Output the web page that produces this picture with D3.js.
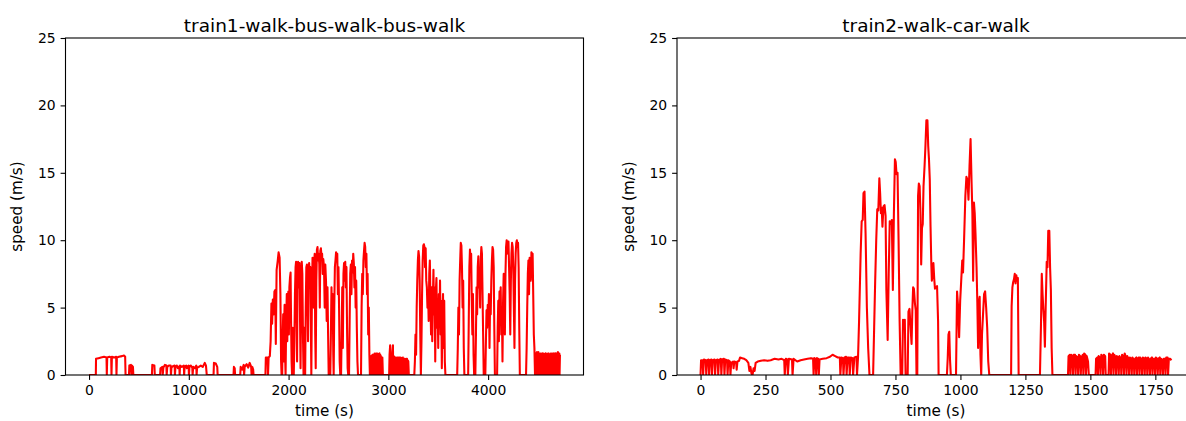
<!DOCTYPE html>
<html>
<head>
<meta charset="utf-8">
<script src="https://cdn.jsdelivr.net/npm/d3@7"></script>
<style>
  body { margin: 0; background: #fff; }
  text { font-family: "DejaVu Sans", sans-serif; fill: #000; }
</style>
</head>
<body>
<div id="my_dataviz"></div>
<script>

// [time (s), speed (m/s)]
var trip1 = [
  [0,0],[68,0],[70,1.2],[95,1.25],[120,1.3],[150,1.35],[175,1.3],[178,0],[182,1.3],[205,1.35],[222,1.3],[225,0],[229,1.35],[255,1.3],[272,1.35],[275,0],[279,1.3],[300,1.35],[330,1.4],[350,1.45],[362,1.35],[366,0],
  [400,0],[404,0.7],[420,0.75],[424,0],[430,0.7],[440,0.6],[444,0],
  [630,0],[634,0.75],[655,0.7],[659,0],
  [712,0],[716,0.5],[735,0.6],[738,0],[745,0.55],[760,0.75],[775,0.7],[778,0],[784,0.6],[800,0.7],[818,0.7],[821,0],[826,0.55],[840,0.65],[858,0.7],[861,0],[866,0.6],[880,0.7],[890,0.5],[905,0.65],[908,0],[912,0.7],[930,0.6],[950,0.7],[953,0],[958,0.6],[975,0.7],[980,0.5],[998,0.7],[1001,0],[1006,0.6],[1020,0.7],[1035,0.55],[1038,0],[1044,0.6],[1060,0.5],[1075,0.7],[1078,0],[1083,0.55],[1100,0.6],[1120,0.7],[1140,0.6],[1160,0.9],[1172,0.7],[1180,0],
  [1248,0],[1252,0.9],[1270,0.85],[1285,0.6],[1289,0],
  [1448,0],[1452,0.6],[1460,0.5],[1464,0],
  [1515,0],[1520,0.6],[1535,0.4],[1550,0.75],[1554,0],[1560,0.6],[1580,0.8],[1595,0.55],[1610,0.9],[1625,0.6],[1629,0],[1636,0.6],[1645,0.4],[1649,0],
  [1768,0],[1772,1.3],[1790,1.3],[1794,0],[1800,1.3],[1812,1.4],[1820,2.5],[1828,5.3],[1835,3.8],[1842,5.6],[1850,4.5],[1858,6.2],[1866,6.3],[1872,2.3],[1880,7.8],[1890,8.4],[1900,9.1],[1910,8.7],[1918,6.0],[1925,1.0],[1930,0],
  [1936,0],[1940,2.5],[1946,4.5],[1950,1.0],[1955,3.5],[1960,5.2],[1965,1.5],[1970,0],[1976,4.0],[1982,6.0],[1987,2.5],[1992,5.5],[1998,6.2],[2003,3.0],[2008,6.5],[2014,7.2],[2020,7.6],[2025,4.0],[2030,1.0],[2035,0],[2042,3.5],[2048,1.5],[2052,0],
  [2058,2.5],[2064,6.0],[2070,8.0],[2075,8.4],[2080,5.0],[2085,1.0],[2090,7.0],[2095,8.4],[2100,8.2],[2105,6.5],[2110,8.3],[2115,4.0],[2120,0.5],[2126,6.0],[2132,8.4],[2138,7.5],[2144,3.0],[2150,0],[2156,3.5],[2162,2.0],[2166,0],
  [2172,5.0],[2178,8.0],[2184,8.2],[2190,6.0],[2195,2.5],[2200,7.5],[2206,8.3],[2212,7.0],[2218,8.0],[2223,4.0],[2228,0],[2234,6.0],[2240,8.7],[2246,8.0],[2252,5.0],[2257,8.5],[2262,9.0],[2267,3.0],[2272,0.5],
  [2278,7.0],[2284,9.3],[2290,9.5],[2296,8.5],[2302,9.0],[2308,8.2],[2313,5.0],[2318,9.2],[2324,9.4],[2330,8.8],[2336,9.0],[2342,7.5],[2348,8.6],[2355,8.0],[2362,5.0],[2368,8.2],[2375,7.0],[2382,4.0],[2390,6.5],[2396,3.0],[2402,0],
  [2418,0],[2424,3.0],[2430,6.5],[2436,4.0],[2442,6.0],[2448,1.5],[2452,0],[2458,5.0],[2464,8.0],[2470,8.5],[2476,9.1],[2482,8.6],[2488,9.0],[2494,6.0],[2500,8.0],[2506,5.0],[2512,1.0],[2518,0],
  [2526,0],[2532,3.0],[2538,6.5],[2544,2.0],[2550,7.5],[2556,8.3],[2562,7.0],[2568,8.4],[2574,6.5],[2580,8.0],[2586,3.5],[2592,0.5],[2598,0],
  [2606,0],[2612,4.0],[2618,7.5],[2624,8.2],[2630,6.0],[2636,8.5],[2642,7.6],[2648,9.0],[2654,8.3],[2660,6.5],[2666,8.0],[2672,5.0],[2678,7.0],[2684,3.5],[2690,1.0],[2696,0],
  [2726,0],[2732,5.0],[2738,7.5],[2744,6.0],[2750,8.5],[2756,9.2],[2762,9.8],[2768,9.5],[2774,8.0],[2780,9.0],[2786,6.0],[2792,7.5],[2798,3.0],[2804,5.0],[2810,1.5],[2815,0],
  [2820,1.3],[2827,1.4],[2829,0],[2834,1.4],[2841,1.5],[2843,0],[2848,1.5],[2855,1.5],[2857,0],[2862,1.6],[2869,1.5],[2871,0],[2876,1.6],[2883,1.6],[2885,0],[2890,1.6],[2897,1.5],[2899,0],[2904,1.5],[2911,1.6],[2913,0],[2918,1.5],[2925,1.4],[2927,0],[2932,1.3],[2940,1.3],[2945,0],
  [3008,0],[3012,1.5],[3018,2.2],[3021,0],[3026,1.6],[3033,1.5],[3035,0],[3040,1.7],[3046,2.2],[3049,0],[3054,1.4],[3061,1.3],[3063,0],[3068,1.3],[3075,1.3],[3077,0],[3082,1.2],[3089,1.3],[3091,0],[3096,1.2],[3103,1.3],[3105,0],[3110,1.3],[3117,1.2],[3119,0],[3124,1.3],[3131,1.2],[3133,0],[3138,1.2],[3145,1.3],[3147,0],[3152,1.2],[3159,1.2],[3161,0],[3166,1.2],[3173,1.1],[3175,0],[3180,1.2],[3187,1.2],[3189,0],[3194,1.1],[3200,1.0],[3205,0],
  [3260,0],[3266,1.0],[3272,3.0],[3278,1.5],[3284,5.0],[3290,7.0],[3296,8.5],[3302,9.2],[3308,8.8],[3314,7.0],[3320,3.0],[3326,0],[3332,2.5],[3338,6.0],[3344,8.5],[3350,9.6],[3356,9.7],[3362,9.5],[3368,8.0],[3374,9.4],[3380,7.0],[3386,6.5],[3392,5.0],[3398,6.3],[3404,4.0],[3410,7.5],[3416,8.5],[3422,5.5],[3428,3.0],[3434,6.5],[3440,2.5],[3446,5.5],[3452,7.8],[3458,4.5],[3464,6.5],[3470,1.0],[3476,6.2],[3482,7.2],[3488,3.5],[3494,5.5],[3500,2.0],[3506,6.0],[3512,4.0],[3518,7.0],[3524,3.0],[3530,5.5],[3536,0.5],[3542,4.5],[3548,6.0],[3554,2.0],[3560,5.5],[3566,1.0],[3572,0],
  [3690,0],[3696,2.0],[3702,5.0],[3708,3.0],[3714,7.0],[3720,8.5],[3726,9.8],[3732,9.6],[3738,8.0],[3744,5.0],[3750,7.0],[3756,2.0],[3762,0],
  [3800,0],[3806,4.0],[3812,8.0],[3818,9.3],[3824,8.5],[3830,9.0],[3836,5.5],[3842,3.0],[3848,6.0],[3854,1.5],[3860,0],
  [3872,0],[3878,3.0],[3884,6.5],[3890,4.5],[3896,8.0],[3902,8.8],[3908,6.5],[3914,7.5],[3920,5.0],[3926,8.5],[3932,9.5],[3938,9.0],[3944,6.0],[3950,3.0],[3956,0],
  [3972,0],[3978,2.5],[3984,4.8],[3990,3.5],[3996,5.2],[4002,4.0],[4008,6.0],[4014,2.0],[4020,5.5],[4026,4.5],[4032,7.0],[4038,8.5],[4044,9.5],[4050,9.3],[4056,8.0],[4062,3.5],[4068,0],
  [4090,0],[4096,3.5],[4102,5.5],[4108,2.5],[4114,6.2],[4120,5.0],[4126,6.5],[4132,3.0],[4138,5.0],[4144,1.0],[4150,5.5],[4156,7.5],[4162,4.0],[4168,3.0],[4174,7.5],[4180,9.5],[4186,10.0],[4192,9.8],[4198,9.0],[4204,9.9],[4210,8.0],[4216,6.0],[4222,3.0],[4228,7.0],[4234,9.0],[4240,9.8],[4246,9.5],[4252,8.0],[4258,5.0],[4264,2.0],[4270,7.0],[4276,9.0],[4282,9.8],[4288,10.0],[4294,9.5],[4300,9.8],[4306,8.0],[4312,3.5],[4318,0],
  [4380,0],[4386,2.0],[4392,5.0],[4398,7.5],[4404,8.5],[4410,6.0],[4416,8.7],[4422,8.5],[4428,7.0],[4434,9.1],[4440,8.8],[4446,9.0],[4452,6.0],[4458,3.0],[4464,2.0],[4470,0],
  [4478,0],[4483,1.6],[4490,1.7],[4492,0],[4497,1.6],[4504,1.7],[4506,0],[4511,1.6],[4518,1.5],[4520,0],[4525,1.6],[4532,1.6],[4534,0],[4539,1.5],[4546,1.6],[4548,0],[4553,1.6],[4560,1.5],[4562,0],[4567,1.5],[4574,1.6],[4576,0],[4581,1.6],[4588,1.5],[4590,0],[4595,1.5],[4602,1.6],[4604,0],[4609,1.5],[4616,1.5],[4618,0],[4623,1.6],[4630,1.5],[4632,0],[4637,1.6],[4644,1.6],[4646,0],[4651,1.5],[4658,1.6],[4660,0],[4665,1.5],[4672,1.6],[4674,0],[4679,1.6],[4686,1.5],[4688,0],[4693,1.6],[4700,1.7],[4702,0],[4707,1.6],[4714,1.6],[4716,0],[4720,1.5]
];

var trip2 = [
  [0,0],[2,1.1],[8,1.1],[10,0],[13,1.15],[20,1.1],[22,0],[25,1.1],[31,1.15],[33,0],[36,1.1],[42,1.15],[44,0],[47,1.1],[54,1.15],[56,0],[59,1.1],[66,1.15],[68,0],[71,1.1],[78,1.2],[80,0],[83,1.15],[90,1.2],[92,0],[95,1.15],[102,1.1],[104,0],[107,1.1],[113,1.0],[115,0],
  [118,0.9],[125,1.0],[127,0.5],[130,1.0],[137,0.95],[139,0.4],[142,1.0],[148,1.05],[152,1.3],[160,1.25],[168,1.2],[176,1.1],[184,0.9],[188,0.3],[192,0.6],[196,0.1],[200,0],[204,0.5],[208,0.3],[212,0.9],[220,1.0],[232,1.05],[245,1.1],[258,1.05],[270,1.1],[285,1.2],[300,1.15],[312,1.2],[322,1.1],[324,0],[328,1.2],[334,1.15],[336,0],[340,1.2],[352,1.15],[354,0],[358,1.2],[372,1.0],[385,1.1],[398,1.15],[412,1.2],[425,1.25],[433,1.2],[435,0],[438,1.25],[443,1.2],[445,0],[448,1.25],[453,1.2],[455,0],[458,1.15],[470,1.2],[485,1.25],[498,1.35],[508,1.5],[518,1.4],[528,1.3],[536,1.3],[538,0],[542,1.3],[548,1.25],[550,0],[554,1.3],[560,1.35],[562,0],[566,1.3],[572,1.3],[574,0],[578,1.3],[585,1.25],[587,0],[592,1.3],[600,1.35],[602,0],[606,1.3],
  [610,4.0],[616,9.0],[620,11.4],[624,11.5],[627,13.5],[631,13.6],[635,10.5],[640,5.0],[645,2.0],[650,0],[664,0],[668,3.5],[672,7.0],[676,10.0],[680,12.3],[684,12.2],[688,14.6],[691,13.5],[694,12.0],[697,12.4],[700,11.0],[704,12.5],[708,12.6],[712,11.8],[715,6.3],[720,2.6],[724,7.5],[728,11.4],[732,11.2],[736,11.5],[740,6.3],[744,12.0],[748,16.0],[751,15.8],[754,14.9],[758,15.0],[762,10.0],[766,4.0],[770,0],
  [776,0],[779,4.1],[783,3.6],[786,4.1],[789,0],[797,0],[800,4.7],[804,4.9],[808,3.6],[812,2.3],[815,4.8],[818,6.5],[821,6.4],[825,5.3],[828,4.8],[831,0],[834,0],[837,13.3],[840,14.2],[843,14.0],[846,12.2],[849,8.2],[852,10.9],[855,11.2],[858,14.0],[862,15.5],[865,16.8],[869,18.9],[873,18.9],[876,17.0],[879,16.0],[882,14.5],[885,11.0],[888,8.2],[890,7.0],[893,7.4],[896,8.3],[899,7.2],[902,6.4],[906,6.5],[910,6.6],[914,4.0],[916,0],
  [948,0],[951,1.2],[954,3.0],[957,3.2],[960,1.1],[963,0],[983,0],[987,6.2],[991,5.1],[995,2.8],[999,5.5],[1003,7.0],[1007,8.5],[1010,7.6],[1014,10.0],[1019,13.3],[1023,14.7],[1027,14.5],[1031,13.0],[1035,15.5],[1039,17.5],[1043,14.2],[1046,12.0],[1049,7.0],[1052,12.8],[1055,12.0],[1058,10.5],[1062,8.0],[1065,5.4],[1068,2.0],[1071,5.4],[1074,5.8],[1077,1.5],[1080,0],[1083,3.0],[1087,4.5],[1091,6.0],[1095,6.2],[1099,5.0],[1103,3.5],[1107,1.0],[1111,0],
  [1195,0],[1197,5.1],[1200,6.5],[1203,6.9],[1206,7.1],[1209,7.5],[1212,6.8],[1215,7.4],[1218,7.0],[1221,7.2],[1224,0],
  [1306,0],[1310,3.8],[1313,7.5],[1316,6.0],[1319,4.9],[1322,4.0],[1325,2.1],[1328,5.0],[1332,8.4],[1335,8.0],[1338,10.7],[1342,10.7],[1345,8.0],[1348,6.3],[1351,2.0],[1354,0],
  [1414,0],[1416,1.4],[1421,1.5],[1423,0],[1426,1.5],[1431,1.4],[1433,0],[1436,1.5],[1441,1.5],[1443,0],[1446,1.4],[1451,1.3],[1453,0],[1456,1.5],[1461,1.4],[1463,0],[1466,1.3],[1471,1.5],[1473,0],[1476,1.6],[1481,1.5],[1483,0],[1486,1.4],[1491,1.0],[1494,0],
  [1520,0],[1522,1.2],[1527,1.3],[1529,0],[1532,1.4],[1537,1.3],[1539,0],[1542,1.5],[1547,1.4],[1549,0],[1552,1.5],[1557,1.4],[1559,0],
  [1570,0],[1572,1.6],[1577,1.5],[1579,0],[1582,1.4],[1587,1.6],[1589,0],[1592,1.5],[1597,1.3],[1599,0],[1602,1.4],[1607,1.3],[1609,0],[1612,1.4],[1617,1.2],[1619,0],[1622,1.5],[1627,1.4],[1629,0],[1632,1.6],[1637,1.3],[1639,0],[1642,1.4],[1647,1.2],[1649,0],[1652,1.3],[1657,1.2],[1659,0],[1662,1.3],[1667,1.1],[1669,0],[1672,1.2],[1677,1.3],[1679,0],[1682,1.2],[1687,1.3],[1689,0],[1692,1.3],[1697,1.1],[1699,0],[1702,1.3],[1707,1.2],[1709,0],[1712,1.3],[1717,1.2],[1719,0],[1722,1.3],[1727,1.1],[1729,0],[1732,1.2],[1737,1.3],[1739,0],[1742,1.2],[1747,1.2],[1749,0],[1752,1.3],[1757,1.2],[1759,0],[1762,1.2],[1767,1.3],[1769,0],[1772,1.2],[1777,1.1],[1779,0],[1782,1.2],[1787,1.2],[1789,0],[1792,1.3],[1797,1.3],[1799,0],[1802,1.2],[1807,1.2],[1812,1.1]
];

var titles = ["train1-walk-bus-walk-bus-walk", "train2-walk-car-walk"];
var xTicks1 = [0, 1000, 2000, 3000, 4000];
var xTicks2 = [0, 250, 500, 750, 1000, 1250, 1500, 1750];
var yTicks = [0, 5, 10, 15, 20, 25];

var W = 1186, H = 421;
var plotW = 518, plotTop = 38, plotBottom = 375;
var lefts = [65.5, 677];

var svg = d3.select("#my_dataviz")
  .append("svg")
    .attr("width", W)
    .attr("height", H);

svg.append("rect").attr("width", W).attr("height", H).attr("fill", "#fff");

function drawPanel(i, data, xTicks) {
  var g = svg.append("g")
    .attr("transform", "translate(" + lefts[i] + ",0)");

  // matplotlib style 5% margin on x
  var ext = d3.extent(data, function(d) { return d[0]; });
  var pad = (ext[1] - ext[0]) * 0.05;
  var x = d3.scaleLinear().domain([ext[0] - pad, ext[1] + pad]).range([0, plotW]);
  var y = d3.scaleLinear().domain([0, 25]).range([plotBottom, plotTop]);

  g.append("clipPath").attr("id", "clip" + i)
    .append("rect").attr("x", 0).attr("y", plotTop).attr("width", plotW).attr("height", plotBottom - plotTop);

  g.append("path")
    .datum(data)
    .attr("clip-path", "url(#clip" + i + ")")
    .attr("fill", "none")
    .attr("stroke", "#ff0000")
    .attr("stroke-width", 2.08)
    .attr("stroke-linejoin", "round")
    .attr("d", d3.line()
      .x(function(d) { return x(d[0]); })
      .y(function(d) { return y(d[1]); }));

  var xAxis = g.append("g")
    .attr("transform", "translate(0," + plotBottom + ")")
    .call(d3.axisBottom(x).tickValues(xTicks).tickSize(4.9).tickPadding(4.9).tickFormat(d3.format("d")));
  var yAxis = g.append("g")
    .call(d3.axisLeft(y).tickValues(yTicks).tickSize(4.9).tickPadding(4.9).tickFormat(d3.format("d")));

  [xAxis, yAxis].forEach(function(a) {
    a.select(".domain").remove();
    a.selectAll("line").attr("stroke", "#000").attr("stroke-width", 1.1);
    a.selectAll("text").attr("font-size", "13.9px").attr("font-family", "DejaVu Sans").attr("fill", "#000");
  });

  // axes frame
  g.append("rect")
    .attr("x", 0).attr("y", plotTop)
    .attr("width", plotW).attr("height", plotBottom - plotTop)
    .attr("fill", "none")
    .attr("stroke", "#000")
    .attr("stroke-width", 1.1);

  g.append("text")
    .attr("x", plotW / 2).attr("y", 31.5)
    .attr("text-anchor", "middle")
    .attr("font-size", "18.5px")
    .text(titles[i]);

  g.append("text")
    .attr("x", plotW / 2).attr("y", 416)
    .attr("text-anchor", "middle")
    .attr("font-size", "15.2px")
    .text("time (s)");

  g.append("text")
    .attr("transform", "translate(-43.5," + ((plotTop + plotBottom) / 2) + ") rotate(-90)")
    .attr("text-anchor", "middle")
    .attr("font-size", "15.2px")
    .text("speed (m/s)");
}

drawPanel(0, trip1, xTicks1);
drawPanel(1, trip2, xTicks2);

</script>
</body>
</html>
